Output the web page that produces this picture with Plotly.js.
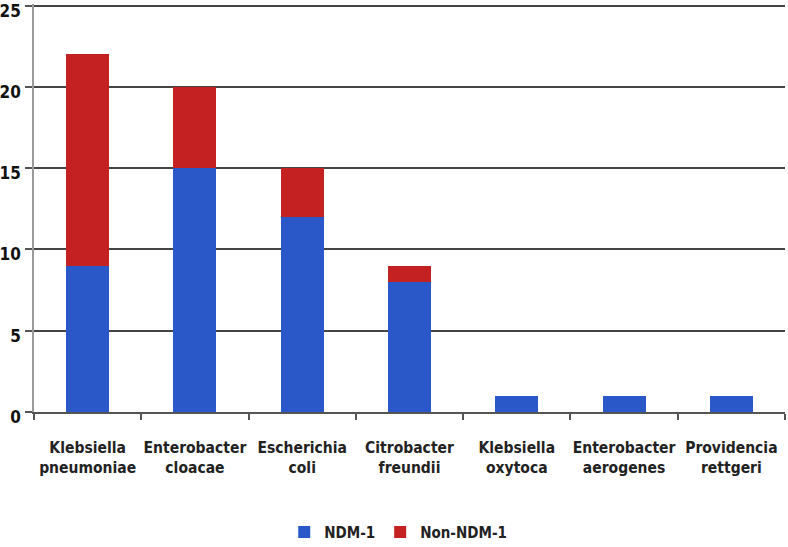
<!DOCTYPE html>
<html>
<head>
<meta charset="utf-8">
<script src="https://cdn.plot.ly/plotly-3.0.1.min.js"></script>
<style>
  html, body { margin: 0; padding: 0; background: #fff; }
  #chart { width: 788px; height: 547px; }
</style>
</head>
<body>
<div id="chart"></div>
<script>
// categories and counts
var species = [
  "Klebsiella<br>pneumoniae", "Enterobacter<br>cloacae", "Escherichia<br>coli",
  "Citrobacter<br>freundii", "Klebsiella<br>oxytoca", "Enterobacter<br>aerogenes",
  "Providencia<br>rettgeri"
];
var ndm1 = [9, 15, 12, 8, 1, 1, 1];
var nonNdm1 = [13, 5, 3, 1, 0, 0, 0];

var font = "'DejaVu Sans Condensed', sans-serif";

var traces = [
  {
    x: species, y: ndm1, name: "NDM-1", type: "bar",
    marker: { color: "#2a58c8" }
  },
  {
    x: species, y: nonNdm1, name: "Non-NDM-1", type: "bar",
    marker: { color: "#c42222" }
  }
];

var layout = {
  barmode: "stack",
  bargap: 0.6,
  width: 788, height: 547,
  margin: { l: 34, r: 3, t: 4, b: 135 },
  paper_bgcolor: "#fff", plot_bgcolor: "#fff",
  font: { family: font, size: 15, color: "#222" },
  showlegend: true,
  legend: {
    orientation: "h", traceorder: "normal",
    yref: "container",
    x: 0.485, xanchor: "center", y: 0.027, yanchor: "middle",
    itemwidth: 30,
    font: { family: font, size: 15, color: "#222", weight: "bold" }
  },
  xaxis: {
    type: "category",
    automargin: false,
    tickson: "boundaries",
    tickangle: 0,
    ticks: "outside", ticklen: 6, tickcolor: "#555", tickwidth: 1.5,
    ticklabelstandoff: 20,
    showline: true, linecolor: "#555", linewidth: 2,
    showgrid: false,
    tickfont: { family: font, size: 15.5, color: "#222", weight: "bold" }
  },
  yaxis: {
    automargin: false,
    range: [0, 25.1], tickvals: [0, 5, 10, 15, 20, 25],
    ticks: "outside", ticklen: 7, tickcolor: "#555", tickwidth: 1.5,
    ticklabeloverflow: "allow",
    ticklabelstandoff: 1,
    ticklabelshift: 5,
    showline: true, linecolor: "#999", linewidth: 1.5,
    showgrid: true, gridcolor: "#444", gridwidth: 1.5,
    zeroline: false,
    tickfont: { family: font, size: 17, color: "#111", weight: "bold" }
  }
};

Plotly.newPlot("chart", traces, layout, { displayModeBar: false });
</script>
</body>
</html>
